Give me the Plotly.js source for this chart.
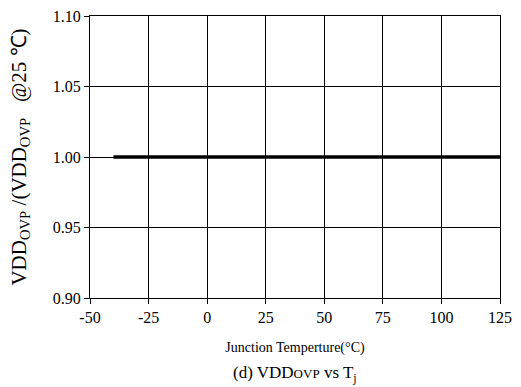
<!DOCTYPE html>
<html><head><meta charset="utf-8">
<script src="https://cdn.plot.ly/plotly-3.0.1.min.js"></script>
<style>body{margin:0;padding:0;background:#fff}#chart{width:521px;height:387px}</style>
</head><body><div id="chart"></div>
<script>
const temps = [-40, 125];
const ratio = [1.00, 1.00];
const xTicks = [-50, -25, 0, 25, 50, 75, 100, 125];
const yTicks = [0.90, 0.95, 1.00, 1.05, 1.10];
const FONT = "'Liberation Serif', 'Times New Roman', serif";

const data = [{
  x: temps, y: ratio, type: 'scatter', mode: 'lines',
  line: {color: '#000', width: 3.5}, showlegend: false, hoverinfo: 'none'
}];
const layout = {
  width: 521, height: 387,
  margin: {l: 90, r: 21, t: 16, b: 89},
  paper_bgcolor: '#fff', plot_bgcolor: '#fff',
  font: {family: FONT, color: '#000', size: 16},
  xaxis: {
    range: [-50, 125], tickvals: xTicks, ticktext: xTicks.map(String),
    showgrid: true, gridcolor: '#000', gridwidth: 1,
    showline: true, linecolor: '#000', linewidth: 1, mirror: true,
    ticks: 'outside', ticklen: 5, tickcolor: '#000',
    zeroline: false, tickfont: {size: 16, family: FONT},
    title: {text: 'Junction Temperture(°C)', font: {size: 14, family: FONT}, standoff: 16}
  },
  yaxis: {
    range: [0.90, 1.10], tickvals: yTicks, ticktext: yTicks.map(v => v.toFixed(2)),
    showgrid: true, gridcolor: '#000', gridwidth: 1,
    showline: true, linecolor: '#000', linewidth: 1, mirror: true,
    ticks: 'outside', ticklen: 5, tickcolor: '#000',
    zeroline: false, tickfont: {size: 16, family: FONT},
    title: {text: 'VDD<sub>OVP</sub> /(VDD<sub>OVP</sub>   @25 ℃)', font: {size: 21, family: FONT}, standoff: 20}
  },
  annotations: [{
    xref: 'paper', yref: 'paper', x: 0.5, y: -0.27, yanchor: 'middle', xanchor: 'center', showarrow: false,
    text: '(d) VDD<span style="font-size:13px">OVP</span> vs T<sub>j</sub>',
    font: {size: 17, family: FONT, color: '#000'}
  }]
};
Plotly.newPlot('chart', data, layout, {displayModeBar: false, staticPlot: true});
</script></body></html>
